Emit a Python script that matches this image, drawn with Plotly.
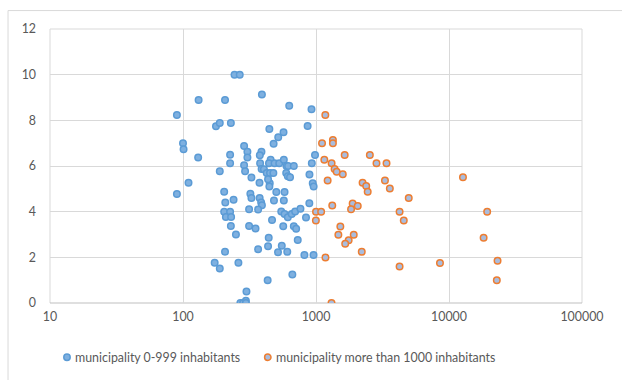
import plotly.graph_objects as go

# Series 1: municipality 0-999 inhabitants (population, value)
small_pop = [244, 267, 131, 207, 392, 629, 925, 90,
             177, 189, 229, 446, 570, 520, 865, 480,
             100, 101,
             288, 305, 305, 389, 378, 130, 226, 226, 983, 930,
             288, 293, 380, 390,
             456, 443, 488, 529, 573, 600, 617, 681,
             406, 426, 451, 478, 449, 436, 376, 327,
             597, 614, 638, 893, 945, 960,
             189, 110, 90, 204, 446,
             503, 580,
             321, 327, 377, 387, 392, 367, 314,
             240, 208, 204, 226, 210, 230, 229, 250,
             483, 573, 548, 580, 614, 657, 697, 764, 891, 841,
             467, 314, 351, 567, 681, 709, 729,
             441, 436, 553, 518, 608, 367, 207, 818, 958,
             173, 189, 261, 664, 433, 300,
             270, 283, 297, 297]
small_val = [10.0, 10.0, 8.89, 8.89, 9.13, 8.64, 8.49, 8.23,
             7.74, 7.88, 7.88, 7.62, 7.48, 7.26, 7.75, 6.97,
             7.0, 6.73,
             6.88, 6.62, 6.37, 6.62, 6.47, 6.37, 6.49, 6.12, 6.48, 6.12,
             6.03, 5.77, 6.12, 5.87,
             6.27, 6.12, 6.12, 6.12, 6.27, 6.0, 6.0, 6.0,
             5.86, 5.69, 5.69, 5.69, 5.25, 5.42, 5.27, 5.5,
             5.69, 5.55, 5.51, 5.63, 5.25, 5.1,
             5.77, 5.27, 4.77, 4.87, 5.1,
             4.86, 4.86,
             4.78, 4.6, 4.6, 4.4, 4.28, 4.1, 4.11,
             4.52, 4.4, 4.0, 4.0, 3.77, 3.77, 3.37, 3.0,
             4.49, 4.49, 4.01, 3.9, 3.76, 3.9, 4.01, 4.13, 4.37, 3.75,
             3.63, 3.37, 3.26, 3.36, 3.36, 3.25, 2.76,
             2.86, 2.49, 2.51, 2.22, 2.24, 2.35, 2.25, 2.1, 2.1,
             1.76, 1.51, 1.76, 1.25, 1.0, 0.5,
             0.0, 0.0, 0.1, 0.0]

# Series 2: municipality more than 1000 inhabitants
large_pop = [1175, 1110, 1340, 1340, 1155, 1310, 1380, 1430, 1590, 1643,
             1223, 2540, 2850, 3390, 2240, 2385, 2447, 3300, 3590, 4980,
             12735, 1325, 1886, 1835, 2060, 1000, 1093, 998, 4250, 4570,
             19364, 1524, 1473, 1922, 1760, 1658, 2208, 1178, 4250, 8553,
             18210, 23170, 22880, 1308]
large_val = [8.23, 7.0, 7.14, 7.0, 6.27, 6.12, 5.87, 5.75, 5.64, 6.48,
             5.36, 6.48, 6.12, 6.12, 5.27, 5.12, 4.87, 5.36, 5.01, 4.6,
             5.51, 4.27, 4.36, 4.11, 4.25, 4.0, 4.0, 3.61, 4.0, 3.61,
             4.0, 3.35, 2.99, 2.99, 2.75, 2.6, 2.24, 1.99, 1.6, 1.75,
             2.86, 1.85, 1.0, 0.0]

x_ticks = [10, 100, 1000, 10000, 100000]
x_labels = ["10", "100", "1000", "10000", "100000"]
y_ticks = [0, 2, 4, 6, 8, 10, 12]

series_names = ["municipality 0-999 inhabitants",
                "municipality more than 1000 inhabitants"]
series_fill = ["#7EB0E0", "#A9BCDD"]
series_line = ["#5B9BD5", "#ED7D31"]

W, H = 622, 380
L, R, T, B = 50, 39.5, 28.5, 76.5
PW, PH = W - L - R, H - T - B


def px_to_paper(px, py):
    return (px - L) / PW, (H - B - py) / PH


fig = go.Figure()
for xs, ys, name, fc, lc in zip([small_pop, large_pop], [small_val, large_val],
                                series_names, series_fill, series_line):
    fig.add_trace(go.Scatter(
        x=xs, y=ys, mode="markers", name=name,
        marker=dict(size=6.5, color=fc, line=dict(color=lc, width=1.5)),
    ))

font = dict(family="Lato, 'Open Sans', sans-serif", size=12.4, color="#595959")
grid = "#D9D9D9"

# custom legend (marker + label) placed below the plot
legend_marker_px = [67, 268]
legend_y_px = 358
annotations = []
shapes = []
for name, fc, lc, mx in zip(series_names, series_fill, series_line, legend_marker_px):
    xp, yp = px_to_paper(mx, legend_y_px)
    shapes.append(dict(type="circle", xref="paper", yref="paper",
                       xsizemode="pixel", ysizemode="pixel",
                       xanchor=xp, yanchor=yp, x0=-3.2, x1=3.2, y0=-3.2, y1=3.2,
                       fillcolor=fc, line=dict(color=lc, width=1.5)))
    tx, ty = px_to_paper(mx + 6, legend_y_px)
    annotations.append(dict(text=name, xref="paper", yref="paper", x=tx, y=ty,
                            xanchor="left", yanchor="middle", showarrow=False,
                            font=font))

shapes += [
    dict(type="line", xref="paper", yref="paper", x0=0, x1=0, y0=0, y1=1,
         line=dict(color=grid, width=1), layer="below"),
    dict(type="line", xref="paper", yref="paper", x0=1, x1=1, y0=0, y1=1,
         line=dict(color=grid, width=1), layer="below"),
    dict(type="line", xref="paper", yref="paper", x0=0, x1=1, y0=1, y1=1,
         line=dict(color=grid, width=1), layer="below"),
    dict(type="line", xref="paper", yref="paper", x0=0, x1=1, y0=0, y1=0,
         line=dict(color="#BFBFBF", width=1), layer="below"),
]
bx0, by1 = px_to_paper(8, 10)
shapes.append(dict(type="rect", xref="paper", yref="paper", x0=bx0, x1=1.3,
                   y0=-0.5, y1=by1, line=dict(color=grid, width=1),
                   fillcolor="rgba(0,0,0,0)", layer="below"))

fig.update_layout(
    width=W, height=H,
    margin=dict(l=L, r=R, t=T, b=B, autoexpand=False),
    paper_bgcolor="white", plot_bgcolor="white",
    font=font,
    showlegend=False,
    hovermode=False,
    xaxis=dict(type="log", range=[1, 5], tickvals=x_ticks, ticktext=x_labels,
               showgrid=True, gridcolor=grid, gridwidth=1, automargin=False,
               zeroline=False, showline=False, ticks="", ticklabelstandoff=5,
               tickfont=font),
    yaxis=dict(range=[0, 12], tickvals=y_ticks, showgrid=True, gridcolor=grid,
               gridwidth=1, zeroline=False, showline=False, ticks="", automargin=False,
               ticklabelstandoff=13, tickfont=font),
    shapes=shapes,
    annotations=annotations,
)

fig.write_html("out.html", config={"displayModeBar": False, "staticPlot": True},
               post_script="document.body.style.margin='0';document.body.style.overflow='hidden';")
